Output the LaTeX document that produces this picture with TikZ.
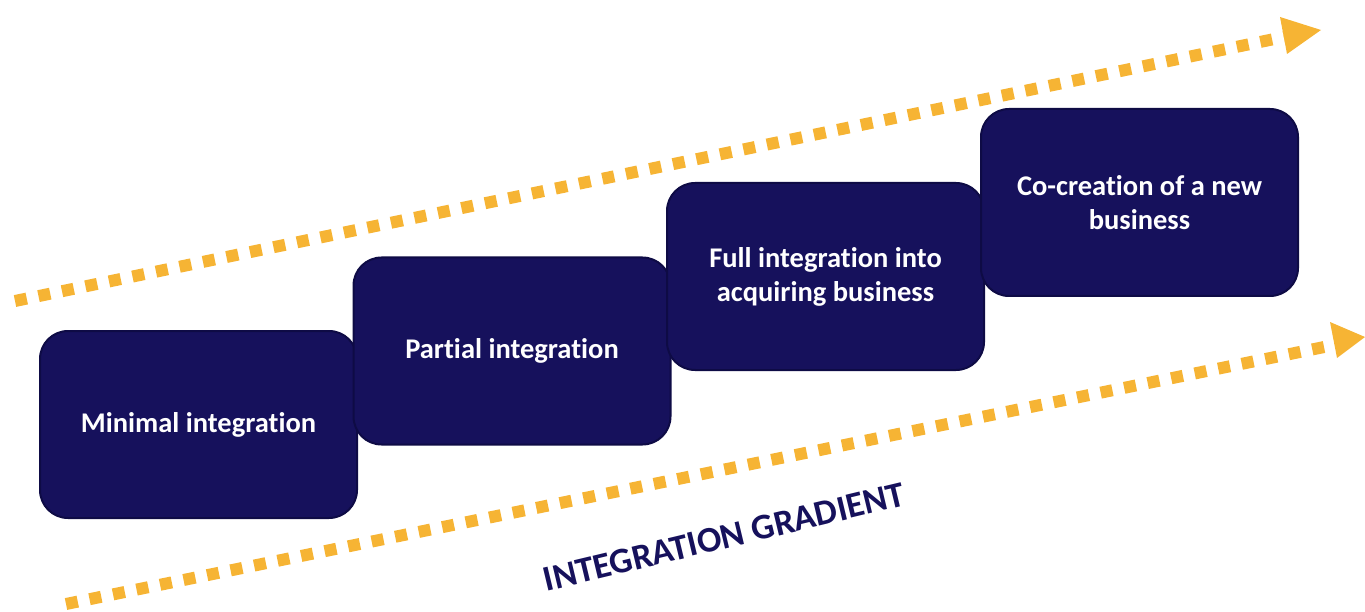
\documentclass[tikz,border=0pt]{standalone}
\usepackage{fontspec}
\setmainfont{Carlito}[Ligatures=NoCommon]
\usetikzlibrary{arrows.meta}
\definecolor{navy}{HTML}{16115C}
\definecolor{navyedge}{HTML}{0E0B45}
\definecolor{amber}{HTML}{F6B434}
\begin{document}
\begin{tikzpicture}[x=1pt,y=-1pt,
  stage/.style={draw=navyedge, line width=2pt, fill=navy, rounded corners=28pt,
    minimum width=317pt, minimum height=187pt, text=white, align=center,
    font=\fontsize{28.5}{34}\selectfont\bfseries, inner sep=0pt},
  dotline/.style={amber, line width=12pt, dash pattern=on 12pt off 12pt},
  head/.style={fill=amber, draw=none}
]
\useasboundingbox (0,0) rectangle (1365,612);

% upper gradient arrow
\coordinate (u0) at (15,301);
\coordinate (u1) at (1284,37);
\coordinate (utip) at (1321,30);
\draw[dotline] (u0) -- (u1);
\fill[head] (utip) -- (1280,17) -- (1287,54) -- cycle;

% lower gradient arrow
\coordinate (l0) at (66,604);
\coordinate (l1) at (1334,345);
\coordinate (ltip) at (1365,337);
\draw[dotline] (l0) -- (l1);
\fill[head] (ltip) -- (1330,322) -- (1337,358) -- cycle;

% the four integration stages
\node[stage] (s1) at (198.5,424.5) {Minimal integration};
\node[stage] (s2) at (512,351) {Partial integration};
\node[stage] (s3) at (825.5,276.5) {Full integration into\\acquiring business};
\node[stage] (s4) at (1139.5,202.5) {Co-creation of a new\\business};

\node[rotate=13.5, text=navy, font=\fontsize{36}{40}\selectfont\bfseries, inner sep=0pt] (lbl) at (724,537) {INTEGRATION GRADIENT};
\end{tikzpicture}
\end{document}
